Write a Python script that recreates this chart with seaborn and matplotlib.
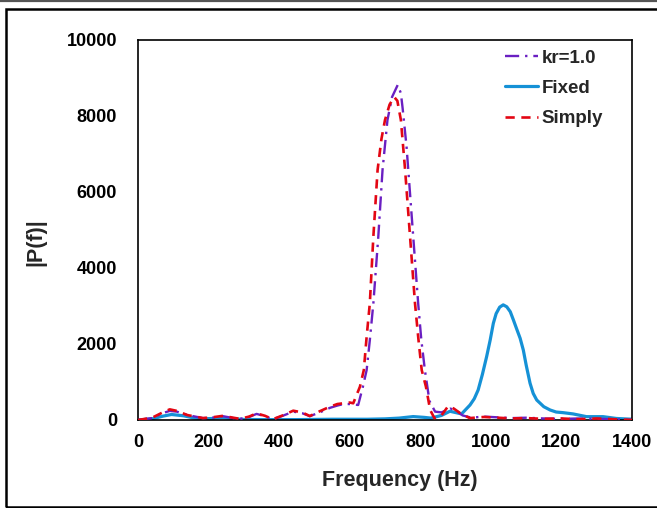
import matplotlib
matplotlib.use("Agg")
import matplotlib.pyplot as plt
import seaborn as sns
import pandas as pd
from matplotlib.patches import Rectangle
from matplotlib.lines import Line2D

# ---- data ----
f_kr = [0,40,70,90,110,140,184,210,241,270,289,315,336,360,382,410,440,465,487,515,544,565,582,600,624,638,648,657,667,681,693,707,720,736,745,750,761,780,794,803,813,826,842,860,885,900,920,945,980,1020,1060,1100,1150,1200,1250,1300,1350,1400]
p_kr = [0,50,180,240,220,130,50,60,100,50,30,80,160,100,20,110,220,180,100,200,320,380,420,420,395,900,1316,2100,3070,4824,6580,7895,8500,8816,8600,8200,7200,4824,3070,2100,1316,500,220,200,300,260,120,60,90,70,50,60,40,30,40,30,20,0]

f_fixed = [0,40,70,95,130,160,184,210,241,270,300,350,400,450,500,550,600,650,700,740,780,810,830,860,884,917,941,953,964,976,988,998,1007,1015,1025,1035,1045,1055,1064,1073,1083,1092,1100,1111,1120,1130,1150,1168,1185,1205,1233,1271,1318,1356,1400]
p_fixed = [0,30,100,145,110,50,30,40,60,30,15,10,10,10,15,20,20,20,30,50,90,70,50,120,230,160,395,560,790,1200,1667,2100,2544,2800,2970,3030,2980,2850,2630,2400,2150,1840,1450,970,700,526,350,263,210,193,160,88,88,40,20]

f_simply = [0,40,70,90,110,140,184,210,241,270,289,315,336,360,382,410,440,465,487,515,544,565,582,600,610,629,640,648,657,667,679,690,700,713,726,735,745,757,771,785,795,804,816,828,840,860,879,895,913,940,980,1020,1060,1100,1150,1200,1250,1300,1350,1400]
p_simply = [0,60,200,280,240,130,50,70,110,60,30,90,175,110,20,120,245,200,105,230,350,420,440,460,440,877,1316,2193,3070,4824,6580,7400,7895,8300,8500,8400,7895,6580,4824,3070,2100,1316,877,263,50,120,365,300,180,50,80,60,40,50,30,40,20,40,20,0]

labels = ["kr=1.0", "Fixed", "Simply"]
x_ticks = [0, 200, 400, 600, 800, 1000, 1200, 1400]
y_ticks = [0, 2000, 4000, 6000, 8000, 10000]

colors = {"kr=1.0": "#6a1fc2", "Fixed": "#1591d6", "Simply": "#e30613"}
ls_kr = (0, (6, 2.5, 1, 2.5))
ls_si = (0, (3.5, 2.5))

sns.set_theme(style="white")
plt.rcParams['font.family'] = ['Liberation Sans', 'DejaVu Sans']
plt.rcParams['font.weight'] = 'bold'

fig = plt.figure(figsize=(6.57, 5.08), dpi=100)
ax = fig.add_axes([138/657, 1-420/508, 494/657, 380/508])

df_kr = pd.DataFrame({"f": f_kr, "p": p_kr})
df_fx = pd.DataFrame({"f": f_fixed, "p": p_fixed})
df_si = pd.DataFrame({"f": f_simply, "p": p_simply})

sns.lineplot(data=df_kr, x="f", y="p", ax=ax, color=colors["kr=1.0"], lw=1.7,
             linestyle=ls_kr, sort=False, estimator=None, zorder=3)
sns.lineplot(data=df_fx, x="f", y="p", ax=ax, color=colors["Fixed"], lw=2.3,
             linestyle="-", sort=False, estimator=None, zorder=2)
sns.lineplot(data=df_si, x="f", y="p", ax=ax, color=colors["Simply"], lw=1.9,
             linestyle=ls_si, sort=False, estimator=None, zorder=4)

ax.set_xlim(0, 1400)
ax.set_ylim(0, 10000)
ax.set_xticks(x_ticks)
ax.set_yticks(y_ticks)
ax.set_xticklabels([str(t) for t in x_ticks], fontsize=13, fontweight='bold')
ax.set_yticklabels([str(t) for t in y_ticks], fontsize=13, fontweight='bold')
ax.tick_params(axis='x', length=0, pad=10, colors='black')
ax.tick_params(axis='y', length=0, pad=15, colors='black')
ax.set_xlabel("Frequency (Hz)", fontsize=15.5, fontweight='bold')
ax.set_ylabel("|P(f)|", fontsize=15.5, fontweight='bold')
ax.xaxis.set_label_coords((400 - 138) / 494, -(470 - 420) / 380)
ax.yaxis.set_label_coords(-(138 - 46) / 494, (420 - 242) / 380)
for s in ax.spines.values():
    s.set_color('black')
    s.set_linewidth(1.2)
    s.set_visible(True)

handles = [
    Line2D([], [], color=colors["kr=1.0"], lw=1.7, linestyle=ls_kr),
    Line2D([], [], color=colors["Fixed"], lw=2.3, linestyle="-"),
    Line2D([], [], color=colors["Simply"], lw=1.9, linestyle=ls_si),
]
leg = ax.legend(handles, labels, loc="upper left", bbox_to_anchor=(0.743, 0.975),
                frameon=False, handlelength=1.75, handletextpad=0.2,
                labelspacing=0.7, borderpad=0, borderaxespad=0,
                prop={'weight': 'bold', 'size': 13.5})

# outer frame
fig.add_artist(Rectangle((6/657, 1.5/508), 1.0, 1-10.5/508, transform=fig.transFigure,
                         fill=False, edgecolor='black', lw=1.8))
fig.add_artist(Line2D([0, 1], [1-0.8/508, 1-0.8/508], transform=fig.transFigure,
                      color='#555555', lw=1.6))

fig.savefig("out.png", dpi=100)
